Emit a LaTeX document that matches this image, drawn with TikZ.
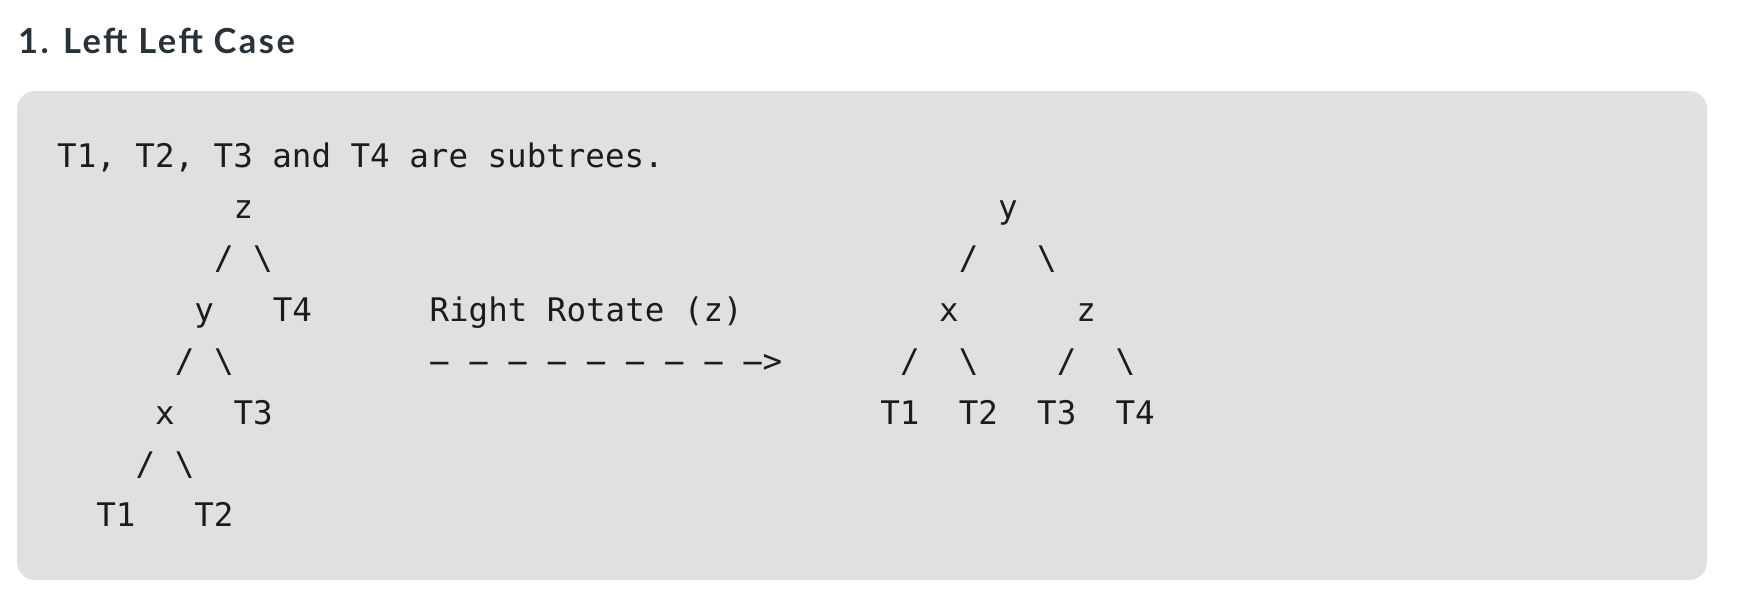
\documentclass[tikz,border=0pt]{standalone}
\usepackage{fontspec}
\usepackage{graphicx}
\newfontfamily\monof{DejaVu Sans Mono}
\newfontfamily\titlef{Lato}[LetterSpace=7]
\definecolor{boxbg}{HTML}{E0E0E0}
\definecolor{ink}{HTML}{1C1C1C}
\definecolor{titleink}{HTML}{273239}
\newcommand\wdash{\makebox[19.6pt][c]{\scalebox{2.2}[1]{-}}}
\tikzset{
  mono/.style={font=\monof\fontsize{32.5}{39}\selectfont, text=ink, inner sep=0pt, anchor=base west},
  titlestyle/.style={font=\titlef\bfseries\fontsize{34.5}{40}\selectfont, text=titleink, inner sep=0pt, anchor=base west},
  codebox/.style={fill=boxbg, draw=none, rounded corners=18pt}
}
\begin{document}
\begin{tikzpicture}[x=1pt,y=-1pt]
\useasboundingbox (0,0) rectangle (1738,598);
\fill[white] (0,0) rectangle (1738,598);
\node[titlestyle] (title) at (18,53) {1. Left Left Case};
\path[codebox] (17,91) rectangle (1707,580);
% row 0
\node[mono] (intro) at ({57+19.6*0},{167+51.4*0}) {T1, T2, T3 and T4 are subtrees.};
% row 1
\node[mono] (lz) at ({57+19.6*9},{167+51.4*1}) {z};
\node[mono] (ry) at ({57+19.6*48},{167+51.4*1}) {y};
% row 2
\node[mono] (lzl) at ({57+19.6*8},{167+51.4*2}) {/};
\node[mono] (lzr) at ({57+19.6*10},{167+51.4*2}) {\textbackslash};
\node[mono] (ryl) at ({57+19.6*46},{167+51.4*2}) {/};
\node[mono] (ryr) at ({57+19.6*50},{167+51.4*2}) {\textbackslash};
% row 3
\node[mono] (ly) at ({57+19.6*7},{167+51.4*3}) {y};
\node[mono] (lt4) at ({57+19.6*11},{167+51.4*3}) {T4};
\node[mono] (rot) at ({57+19.6*19},{167+51.4*3}) {Right Rotate (z)};
\node[mono] (rx) at ({57+19.6*45},{167+51.4*3}) {x};
\node[mono] (rz) at ({57+19.6*52},{167+51.4*3}) {z};
% row 4
\node[mono] (lyl) at ({57+19.6*6},{167+51.4*4}) {/};
\node[mono] (lyr) at ({57+19.6*8},{167+51.4*4}) {\textbackslash};
\node[mono] (arrow) at ({57+19.6*19},{167+51.4*4}) {\wdash\ \wdash\ \wdash\ \wdash\ \wdash\ \wdash\ \wdash\ \wdash\ \wdash>};
\node[mono] (rxl) at ({57+19.6*43},{167+51.4*4}) {/};
\node[mono] (rxr) at ({57+19.6*46},{167+51.4*4}) {\textbackslash};
\node[mono] (rzl) at ({57+19.6*51},{167+51.4*4}) {/};
\node[mono] (rzr) at ({57+19.6*54},{167+51.4*4}) {\textbackslash};
% row 5
\node[mono] (lx) at ({57+19.6*5},{167+51.4*5}) {x};
\node[mono] (lt3) at ({57+19.6*9},{167+51.4*5}) {T3};
\node[mono] (rt1) at ({57+19.6*42},{167+51.4*5}) {T1};
\node[mono] (rt2) at ({57+19.6*46},{167+51.4*5}) {T2};
\node[mono] (rt3) at ({57+19.6*50},{167+51.4*5}) {T3};
\node[mono] (rt4) at ({57+19.6*54},{167+51.4*5}) {T4};
% row 6
\node[mono] (lxl) at ({57+19.6*4},{167+51.4*6}) {/};
\node[mono] (lxr) at ({57+19.6*6},{167+51.4*6}) {\textbackslash};
% row 7
\node[mono] (lt1) at ({57+19.6*2},{167+51.4*7}) {T1};
\node[mono] (lt2) at ({57+19.6*7},{167+51.4*7}) {T2};
\end{tikzpicture}
\end{document}
